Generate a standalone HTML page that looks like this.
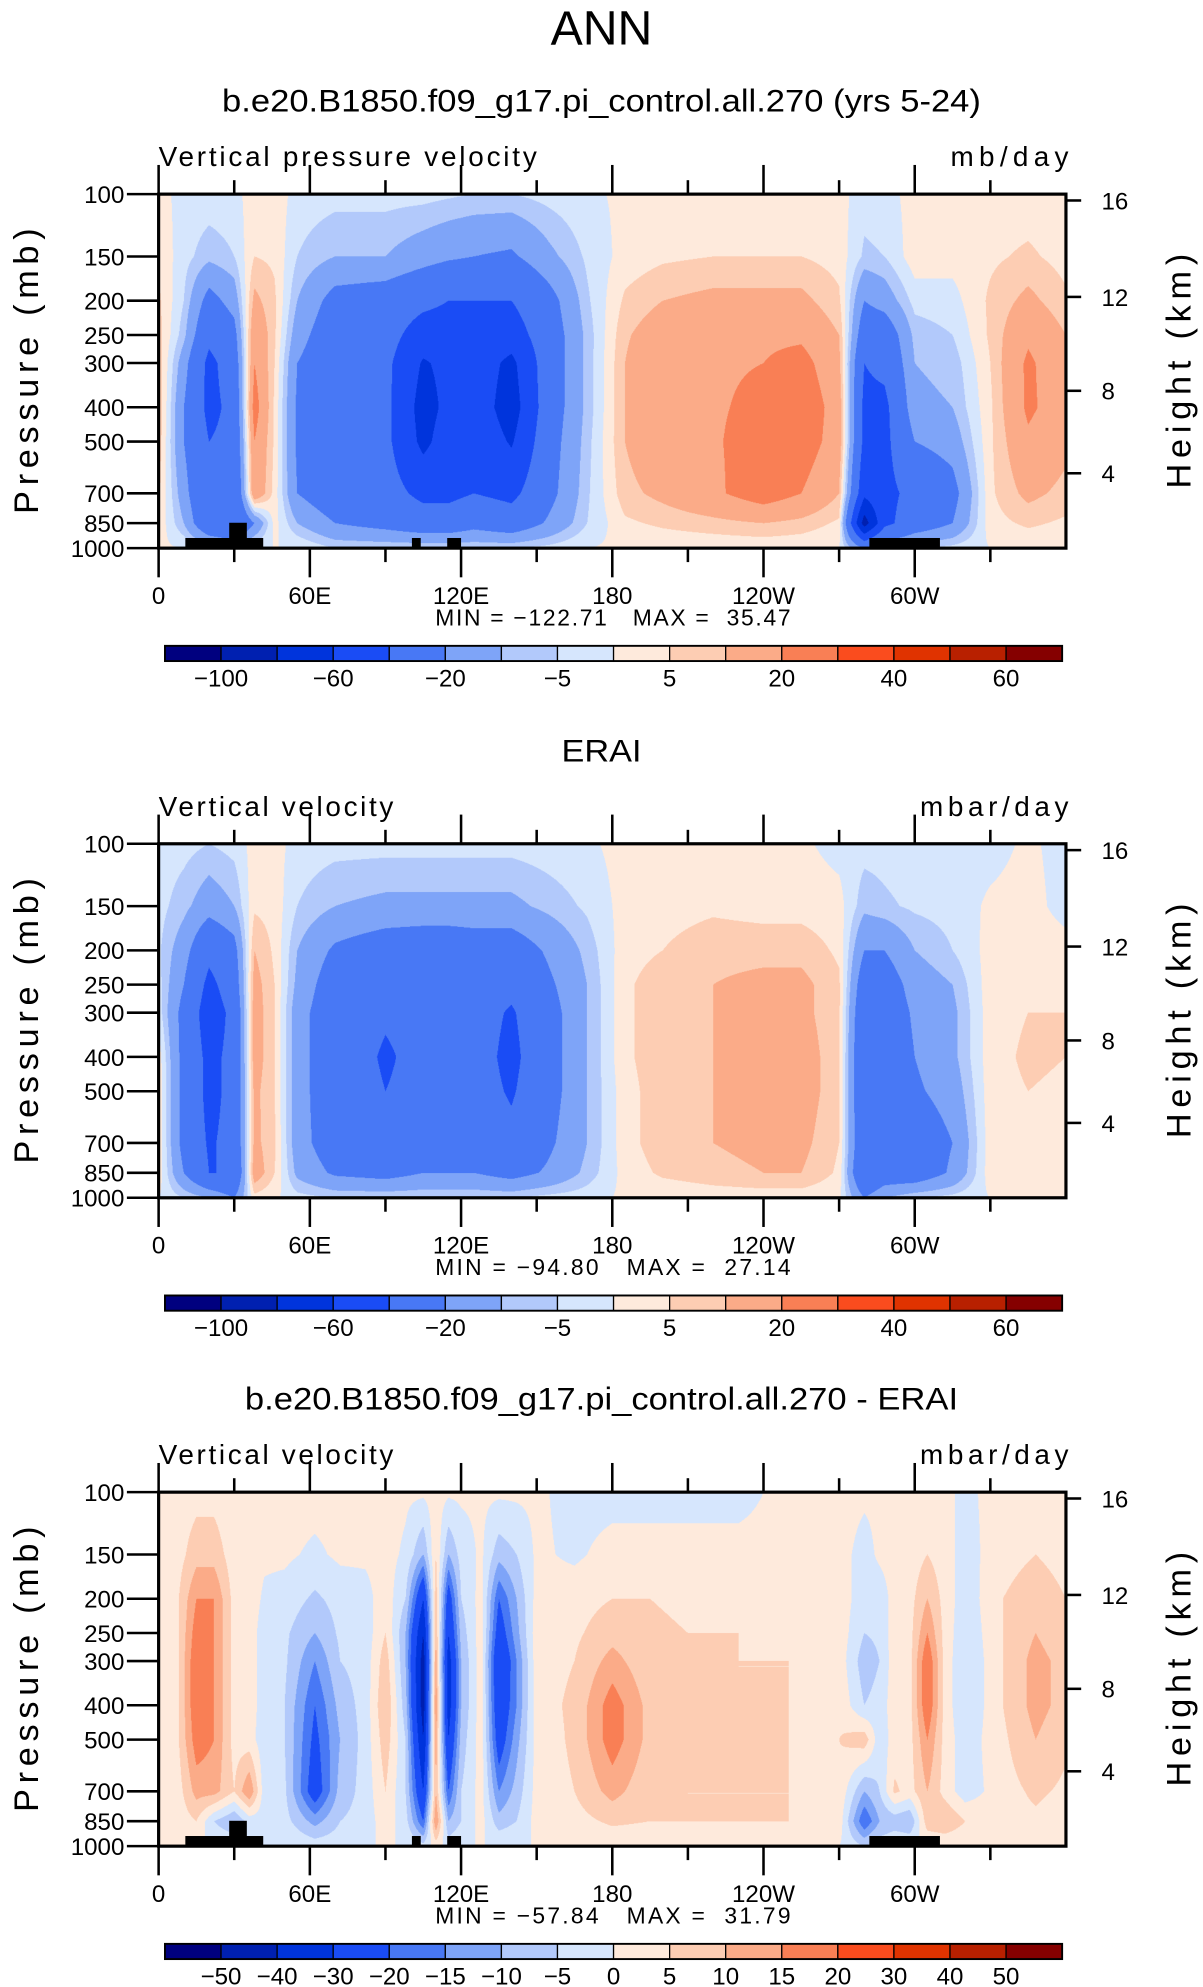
<!DOCTYPE html>
<html><head><meta charset="utf-8">
<style>
html,body{margin:0;padding:0;background:#fff;}
#wrap{position:relative;width:948px;height:1566px;transform:scale(1.26899,1.26884);transform-origin:0 0;}
canvas{position:absolute;}
svg{position:absolute;left:0;top:0;}
text{font-family:"Liberation Sans",sans-serif;fill:#000;}
</style></head><body>
<div id="wrap">
<canvas id="c0"></canvas>
<canvas id="c1"></canvas>
<canvas id="c2"></canvas>
<svg id="ov" width="948" height="1566"></svg>
</div>
<script>
const pressureLevels=[100,150,200,250,300,400,500,700,850,1000];
const heightTicks=[16,12,8,4];
const heightTickPx=[5,81,155,220];
const lonTickLabels=["0","60E","120E","180","120W","60W"];
const cbTicks1=["-100","-60","-20","-5","5","20","40","60"];
const cbTicks3=["-50","-40","-30","-20","-15","-10","-5","0","5","10","15","20","30","40","50"];
const bounds1=[-100,-80,-60,-40,-20,-10,-5,0,5,10,20,30,40,50,60];
const bounds3=[-50,-40,-30,-20,-15,-10,-5,0,5,10,15,20,30,40,50];
const palette=["#00007f","#0020b0","#0034dc","#1a4cf5","#4878f5","#7ea4f8","#b2c9fb","#d6e6fd","#feeadc","#fdcdb3","#fbab88","#f97f55","#fa4c1e","#e03300","#b82000","#850000"];
const lons1=[0,10,20,30,38,46,55,70,90,105,115,125,140,155,170,185,200,220,240,255,270,280,288,300,315,330,345,360];
const field1=[
[2,4,6,7,8,9,8,6,4,1],[-2,-3,-5,-8,-15,-20,-20,-15,-10,0],[-2,-8,-25,-35,-45,-45,-40,-40,-35,-5],[-2,-5,-15,-25,-30,-35,-35,-40,-40,-10],
[3,5,12,18,20,25,20,18,-20,0],[3,4,6,6,5,4,4,3,2,0],[-2,-5,-10,-15,-20,-22,-22,-20,-10,0],[-3,-10,-25,-30,-32,-32,-32,-30,-20,-5],
[-3,-10,-28,-32,-35,-35,-35,-32,-25,-5],[-3,-15,-35,-50,-62,-68,-65,-45,-30,-5],[-4,-18,-40,-50,-55,-55,-50,-45,-30,-5],[-5,-20,-40,-45,-48,-48,-45,-40,-25,-5],
[-5,-22,-40,-50,-65,-70,-62,-45,-30,-5],[-3,-12,-25,-28,-28,-28,-26,-24,-18,-3],[-1,-4,-6,-8,-8,-8,-7,-6,-5,0],[1,2,6,9,10,10,10,8,4,1],
[2,4,10,15,18,18,17,12,6,1],[2,5,12,18,19,19,19,18,8,1],[2,5,12,18,20,22,24,26,10,1],[2,5,12,18,24,28,26,20,8,1],
[2,3,6,10,12,15,15,10,4,0],[-3,-6,-20,-30,-40,-45,-45,-55,-90,-20],[-2,-5,-15,-30,-35,-45,-45,-45,-45,-10],[2,3,-3,-8,-10,-12,-20,-35,-30,-5],
[1,2,-2,-5,-8,-10,-15,-25,-20,-3],[2,4,6,6,5,4,4,4,3,0],[2,6,12,18,22,22,18,12,6,1],[1,3,6,10,12,14,12,8,4,1]];
const lons2=lons1;
const field2=[
[-2,-3,-4,-3,-2,3,4,4,3,0],[-3,-8,-15,-20,-25,-25,-25,-25,-20,-5],[-5,-15,-35,-45,-50,-45,-45,-42,-40,-10],[-3,-10,-25,-30,-35,-35,-35,-35,-40,-20],
[2,4,10,13,14,14,12,12,15,3],[2,3,4,5,5,5,5,6,5,1],[-2,-5,-10,-12,-15,-15,-15,-15,-12,-3],[-3,-10,-22,-28,-30,-30,-30,-28,-22,-5],
[-3,-12,-28,-35,-38,-42,-40,-35,-25,-5],[-3,-12,-30,-35,-35,-35,-35,-30,-20,-5],[-3,-12,-30,-35,-38,-38,-35,-30,-20,-5],[-3,-12,-28,-32,-32,-32,-32,-30,-20,-5],
[-3,-12,-28,-35,-42,-45,-42,-35,-25,-5],[-2,-8,-18,-22,-25,-25,-25,-22,-18,-3],[-1,-4,-8,-10,-10,-10,-10,-10,-8,-2],[2,2,3,4,4,4,3,3,2,1],
[2,3,5,8,8,8,8,8,6,1],[2,4,8,10,10,10,10,10,8,2],[2,3,8,12,14,14,14,12,10,2],[1,3,8,12,12,14,14,12,10,2],
[-2,2,4,6,6,6,6,5,4,1],[-3,-8,-20,-30,-35,-38,-38,-35,-40,-20],[-3,-6,-20,-28,-30,-32,-30,-30,-30,-10],[-2,-4,-10,-15,-18,-20,-22,-30,-30,-5],
[-2,-3,-5,-10,-12,-12,-15,-20,-18,-3],[-2,1,2,3,3,3,3,3,3,0],[1,2,3,4,5,6,5,4,3,1],[-2,-2,2,4,5,5,4,3,2,0]];
const lons3=[0,8,15,22,30,36,42,50,62,72,82,90,98,105,110,115,120,128,135,142,150,165,180,195,210,230,250,270,280,286,292,298,305,312,320,335,348,360];
const field3=[
[1,1,2,2,2,1,1,1,1,0],[2,3,5,5,5,5,5,3,2,0],[3,8,15,18,20,20,18,12,5,0],[3,8,15,15,15,15,15,12,-5,0],
[1,2,3,3,3,3,3,5,-10,0],[1,2,3,3,3,3,2,15,-3,0],[2,1,-1,-3,-3,-3,-3,-3,-2,0],[2,1,-2,-4,-4,-5,-5,-4,-3,0],
[2,-1,-6,-10,-15,-20,-22,-25,-12,-2],[2,1,-3,-4,-5,-8,-10,-8,-5,-2],[2,1,-2,-3,-3,-3,-3,-3,-3,0],[2,2,3,5,8,10,8,5,3,0],
[1,-1,-5,-10,-10,-8,-5,-5,-3,0],[1,-10,-30,-40,-45,-45,-40,-30,-20,-3],[2,5,8,10,12,15,12,10,15,2],[1,-10,-25,-30,-35,-35,-30,-20,-10,-2],
[1,-3,-5,-8,-10,-10,-8,-5,-5,0],[1,1,2,3,3,3,3,2,2,0],[1,-8,-20,-25,-30,-28,-25,-15,-8,0],[1,-5,-10,-12,-15,-15,-12,-8,-5,0],
[1,1,2,3,3,3,2,2,2,0],[-2,-1,3,4,5,6,6,5,3,0],[-2,2,5,8,12,18,18,12,6,1],[-2,2,5,6,6,8,8,6,5,1],
[-2,2,4,5,5,6,6,5,5,1],[-2,2,4,5,5,5,6,5,5,1],[2,2,3,4,5,5,5,5,5,1],[2,2,3,3,3,4,5,4,3,0],
[1,-2,-3,-5,-8,-5,8,-10,-20,-5],[1,1,-3,-4,-5,-3,-3,-5,-10,-2],[1,2,2,3,3,3,2,6,-8,0],[1,2,3,3,3,3,3,3,-10,0],
[2,5,10,15,20,20,15,10,8,0],[1,2,3,3,3,3,3,3,10,0],[-1,-2,-3,-4,-5,-5,-3,-3,5,0],[2,3,5,5,5,5,4,3,3,0],
[2,5,8,10,12,12,10,6,4,0],[1,3,5,6,8,8,6,4,2,0]];

const PX=125,PW=715,PH=279,TOP0=153;
const xOf=lon=>PX+lon/360*PW;
const yOf=p=>Math.log10(p/100)*PH;
const NS="http://www.w3.org/2000/svg";
const ov=document.getElementById('ov');
function el(tag,attrs,txt){const e=document.createElementNS(NS,tag);for(const k in attrs)e.setAttribute(k,attrs[k]);if(txt!==undefined)e.textContent=txt;ov.appendChild(e);return e;}
function colorIdx(v,b){let i=0;while(i<b.length&&v>=b[i])i++;return i;}
function hex(h){return [parseInt(h.slice(1,3),16),parseInt(h.slice(3,5),16),parseInt(h.slice(5,7),16)];}
const pal=palette.map(hex);
const logP=pressureLevels.map(p=>Math.log10(p));

function drawField(cid,top,lons,field,b){
  const c=document.getElementById(cid),S=2;
  c.width=PW*S;c.height=PH*S;c.style.left=PX+'px';c.style.top=top+'px';c.style.width=PW+'px';c.style.height=PH+'px';
  const ctx=c.getContext('2d'),img=ctx.createImageData(c.width,c.height);
  for(let j=0;j<c.height;j++){
    const lp=2+(j+0.5)/c.height;let k=0;while(k<logP.length-2&&lp>logP[k+1])k++;
    const ty=Math.min(1,Math.max(0,(lp-logP[k])/(logP[k+1]-logP[k])));
    for(let i=0;i<c.width;i++){
      const lon=(i+0.5)/c.width*360;let m=0;while(m<lons.length-2&&lon>lons[m+1])m++;
      const tx=Math.min(1,Math.max(0,(lon-lons[m])/(lons[m+1]-lons[m])));
      const v=(1-tx)*((1-ty)*field[m][k]+ty*field[m][k+1])+tx*((1-ty)*field[m+1][k]+ty*field[m+1][k+1]);
      const col=pal[colorIdx(v,b)],o=(j*c.width+i)*4;
      img.data[o]=col[0];img.data[o+1]=col[1];img.data[o+2]=col[2];img.data[o+3]=255;
    }
  }
  ctx.putImageData(img,0,0);
}

function panel(n,off,title,titleLen,varName,varLen,units,unitsLen,mn,mx,lons,field,b,cbLabels,topo){
  const top=TOP0+off;
  drawField('c'+n,top,lons,field,b);
  let t=el('text',{x:474,y:88+off,'text-anchor':'middle','font-size':25,textLength:titleLen,lengthAdjust:'spacingAndGlyphs'},title);
  
  t=el('text',{x:125,y:131+off,'font-size':22,textLength:varLen},varName);
  
  t=el('text',{x:842-unitsLen,y:131+off,'font-size':22,textLength:unitsLen},units);
  
  if(topo){topo.forEach(r=>{const e=el('rect',{x:xOf(r[0]),y:top+PH-r[2],width:xOf(r[1])-xOf(r[0]),height:r[2],fill:'#000'});
    });}
  let e=el('rect',{x:PX,y:top,width:PW,height:PH,fill:'none',stroke:'#000','stroke-width':2.5});
  
  pressureLevels.forEach((p,i)=>{const y=top+yOf(p);
    el('line',{x1:100,x2:PX,y1:y,y2:y,stroke:'#000','stroke-width':2});
    const tl=el('text',{x:98,y:y+7,'text-anchor':'end','font-size':19},String(p));
    });
  heightTicks.forEach((h,i)=>{const y=top+heightTickPx[i];
    el('line',{x1:PX+PW,x2:PX+PW+12,y1:y,y2:y,stroke:'#000','stroke-width':2});
    const tl=el('text',{x:868,y:y+7,'font-size':19},String(h));
    });
  for(let l=0;l<360;l+=30){const x=xOf(l),maj=l%60===0;
    el('line',{x1:x,x2:x,y1:top,y2:top-(maj?23:11),stroke:'#000','stroke-width':2});
    el('line',{x1:x,x2:x,y1:top+PH,y2:top+PH+(maj?23:11),stroke:'#000','stroke-width':2});
    if(maj){const tl=el('text',{x:x,y:top+PH+44,'text-anchor':'middle','font-size':19},lonTickLabels[l/60]);
      }}
  t=el('text',{x:-112,y:0,'font-size':27,textLength:225,transform:`translate(30,${top+140}) rotate(-90)`},'Pressure (mb)');
  
  t=el('text',{x:-92,y:0,'font-size':27,textLength:185,transform:`translate(938,${top+140}) rotate(-90)`},'Height (km)');
  
  t=el('text',{x:343,y:top+PH+61,'font-size':18,textLength:280,style:'white-space:pre'},`MIN = ${mn}   MAX =  ${mx}`);
  
  const cx=130,cw=707,cy=top+356,bw=cw/16;
  palette.forEach((c,i)=>{const r=el('rect',{x:cx+i*bw,y:cy,width:bw,height:12,fill:c,stroke:'#000','stroke-width':1});
    });
  el('rect',{x:cx,y:cy,width:cw,height:12,fill:'none',stroke:'#000','stroke-width':1.5});
  const step=cbLabels.length===8?2:1;
  cbLabels.forEach((s,i)=>{const bi=step===2?1+2*i:1+i;
    const tl=el('text',{x:cx+bi*bw,y:cy+32,'text-anchor':'middle','font-size':19},s.replace('-','\u2212'));
    });
}
let h=el('text',{x:474,y:35,'text-anchor':'middle','font-size':38,'font-weight':'300'},'ANN');

const topo=[[10.6,41.5,8],[28,35,20],[100.5,104,8],[114.5,120,8],[282,310,8]];
panel(0,0,'b.e20.B1850.f09_g17.pi_control.all.270 (yrs 5-24)',598,'Vertical pressure velocity',298,'mb/day',93,'\u2212122.71','35.47',lons1,field1,bounds1,cbTicks1,topo);
panel(1,512,'ERAI',63,'Vertical velocity',185,'mbar/day',117,'\u221294.80','27.14',lons2,field2,bounds1,cbTicks1,null);
panel(2,1023,'b.e20.B1850.f09_g17.pi_control.all.270 - ERAI',562,'Vertical velocity',185,'mbar/day',117,'\u221257.84','31.79',lons3,field3,bounds3,cbTicks3,topo);
</script>
</body></html>
